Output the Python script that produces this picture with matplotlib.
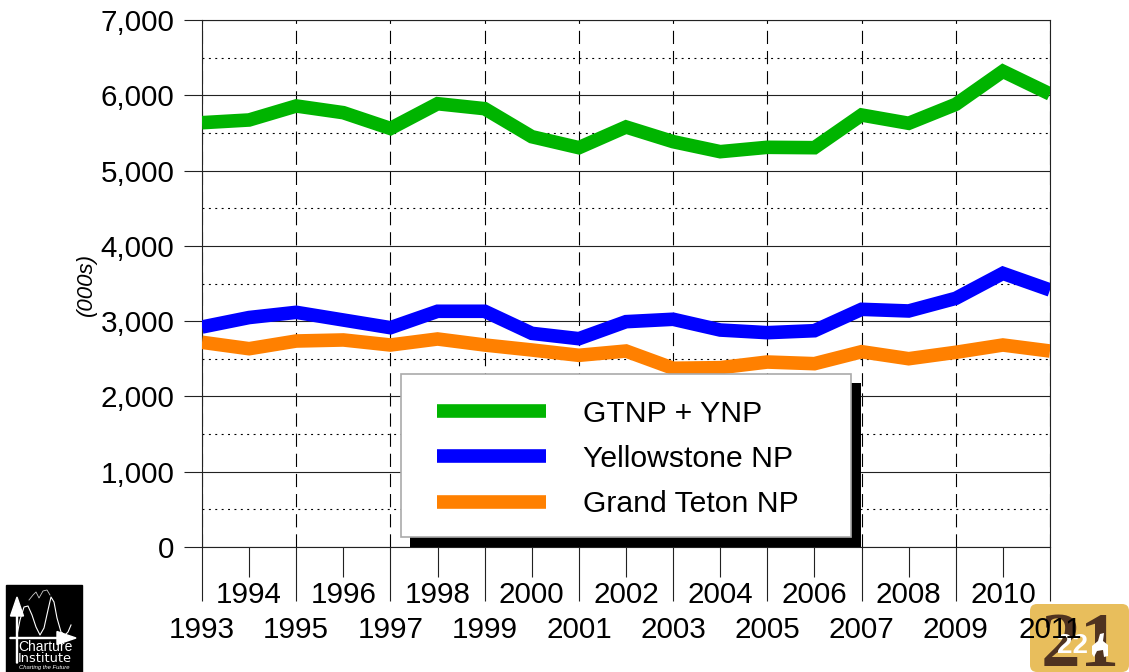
import matplotlib
matplotlib.use('Agg')
import matplotlib.pyplot as plt
from matplotlib.lines import Line2D
from matplotlib.patches import FancyBboxPatch, Rectangle, Polygon, FancyArrow

plt.rcParams['font.family'] = ['Liberation Sans', 'DejaVu Sans']
plt.rcParams['lines.scale_dashes'] = False

years = list(range(1993, 2012))
combined = [5636, 5672, 5858, 5769, 5559, 5888, 5822, 5450, 5304, 5579,
            5384, 5251, 5309, 5304, 5738, 5628, 5880, 6319, 6017]
yellowstone = [2922, 3048, 3117, 3015, 2913, 3131, 3131, 2838, 2767, 2993,
               3025, 2882, 2847, 2873, 3157, 3135, 3303, 3635, 3414]
teton = [2719, 2634, 2736, 2750, 2683, 2763, 2683, 2617, 2546, 2603,
         2374, 2382, 2457, 2435, 2594, 2501, 2586, 2683, 2603]
y_major = [0, 1000, 2000, 3000, 4000, 5000, 6000, 7000]
y_minor = [500, 1500, 2500, 3500, 4500, 5500, 6500]
y_labels = ['0', '1,000', '2,000', '3,000', '4,000', '5,000', '6,000', '7,000']
odd_years = years[0::2]
even_years = years[1::2]

W, H = 1129, 672


def fig_box(x0, y0, x1, y1):
    # pixel box (top-left origin) to figure fractions
    return [x0 / W, 1 - y1 / H, (x1 - x0) / W, (y1 - y0) / H]


def draw_logo(bg):
    # Charture Institute logo, bottom left
    bg.add_patch(Rectangle((6, 585), 76, 87, color='black'))
    wave = [(17, 635), (20, 620), (24, 607), (28, 606), (32, 615), (36, 627), (40, 635),
            (44, 628), (48, 610), (51, 597), (54, 602), (57, 618), (61, 632), (65, 635),
            (68, 632), (71, 625)]
    top = [(29, 600), (33, 595), (36, 592), (39, 598), (43, 591), (47, 590), (50, 595)]
    bg.plot(*zip(*wave), color='white', lw=0.8)
    bg.plot(*zip(*top), color='#cccccc', lw=0.6)
    bg.add_patch(FancyArrow(17, 663, 0, -66, width=1, head_width=13, head_length=19,
                            length_includes_head=True, color='white'))
    bg.add_patch(FancyArrow(10, 638, 66, 0, width=1, head_width=13, head_length=19,
                            length_includes_head=True, color='white'))
    bg.text(18, 647, 'Charture', color='white', fontsize=10, va='center', ha='left')
    bg.text(18, 659, 'Institute', color='white', fontsize=9.3, va='center', ha='left',
            family=['DejaVu Sans'])
    bg.text(44, 667, 'Charting the Future', color='white', fontsize=4.2, style='italic',
            va='center', ha='center')


def draw_badge(bg):
    # gold "21" badge, bottom right
    bg.add_patch(FancyBboxPatch((1034, 608), 91, 60, boxstyle='round,pad=4,rounding_size=7',
                                fc='#E8BE5C', ec='none'))
    bg.text(1080, 666, '21', color='#4F3320', fontsize=57, weight='bold', ha='center',
            va='baseline', family=['Liberation Serif'])
    bg.text(1073, 646, '22', color='white', fontsize=20, weight='bold', ha='center',
            va='center', zorder=5)
    horse = [(1092, 646), (1098, 641), (1100, 634), (1104, 633), (1103, 641), (1108, 645),
             (1108, 656), (1104, 657), (1103, 650), (1097, 651), (1094, 657), (1092, 654)]
    bg.add_patch(Polygon(horse, closed=True, fc='white', ec='none', zorder=5))


def main():
    fig = plt.figure(figsize=(W / 100, H / 100), dpi=100)

    bg = fig.add_axes([0, 0, 1, 1], zorder=0)
    bg.set_xlim(0, W)
    bg.set_ylim(H, 0)
    bg.axis('off')
    draw_logo(bg)
    draw_badge(bg)

    ax = fig.add_axes(fig_box(202, 20, 1050, 547), zorder=1)
    ax.patch.set_alpha(0)

    ax.plot(years, combined, color='#00B400', lw=9.8, solid_capstyle='butt',
            solid_joinstyle='miter', label='GTNP + YNP', zorder=3)
    ax.plot(years, yellowstone, color='#0000FF', lw=9.8, solid_capstyle='butt',
            solid_joinstyle='miter', label='Yellowstone NP', zorder=3)
    ax.plot(years, teton, color='#FF8000', lw=9.8, solid_capstyle='butt',
            solid_joinstyle='miter', label='Grand Teton NP', zorder=3)

    ax.set_xlim(1993, 2011)
    ax.set_ylim(0, 7000)

    ax.set_yticks(y_major)
    ax.set_yticklabels(y_labels)
    ax.set_yticks(y_minor, minor=True)
    ax.set_xticks(odd_years)
    ax.set_xticklabels([str(y) for y in odd_years])
    ax.set_xticks(even_years, minor=True)
    ax.set_xticklabels([str(y) for y in even_years], minor=True)

    ax.tick_params(axis='y', which='major', length=13, width=0.8, pad=7, labelsize=21.3, color='#222222')
    ax.tick_params(axis='y', which='minor', length=0)
    ax.tick_params(axis='x', which='major', length=39, width=0.8, pad=11, labelsize=21.3, color='#222222')
    ax.tick_params(axis='x', which='minor', length=21.5, width=0.8, pad=3, labelsize=21.3, color='#222222')

    ax.grid(True, axis='y', which='major', color='#222222', lw=0.8, zorder=1)
    ax.grid(True, axis='y', which='minor', color='black', lw=0.8, linestyle=(0, (1.4, 3.2)), zorder=1)
    ax.grid(True, axis='x', which='major', color='black', lw=0.8, linestyle=(0, (9.5, 5)), zorder=1)
    ax.set_axisbelow(True)
    for s in ax.spines.values():
        s.set_linewidth(0.8)
        s.set_color('#222222')

    ax.set_ylabel('(000s)', style='italic', fontsize=16)
    ax.yaxis.set_label_coords((97 - 202) / 848, (547 - 284) / 527)

    # legend box and its hard shadow, drawn separately so the entries can sit freely inside
    ax.add_patch(Rectangle(fig_box(410, 383, 861, 546.5)[:2], 451 / W, 163.5 / H,
                           transform=fig.transFigure, fc='black', ec='none', zorder=6, clip_on=False))
    ax.add_patch(Rectangle(fig_box(401, 374, 851, 537)[:2], 450 / W, 163 / H,
                           transform=fig.transFigure, fc='white', ec='#aaaaaa', lw=1.2, zorder=7,
                           clip_on=False))

    fs = 21.7
    fs_px = fs * 100 / 72
    leg = ax.legend(loc='upper left',
                    bbox_to_anchor=(437 / W, 1 - 400 / H),
                    bbox_transform=fig.transFigure,
                    fontsize=fs, frameon=False, borderaxespad=0, borderpad=0,
                    labelspacing=0.565, handlelength=109 / fs_px,
                    handletextpad=37 / fs_px)
    leg.set_zorder(8)

    fig.savefig('out.png', dpi=100)


if __name__ == "__main__":
    main()
